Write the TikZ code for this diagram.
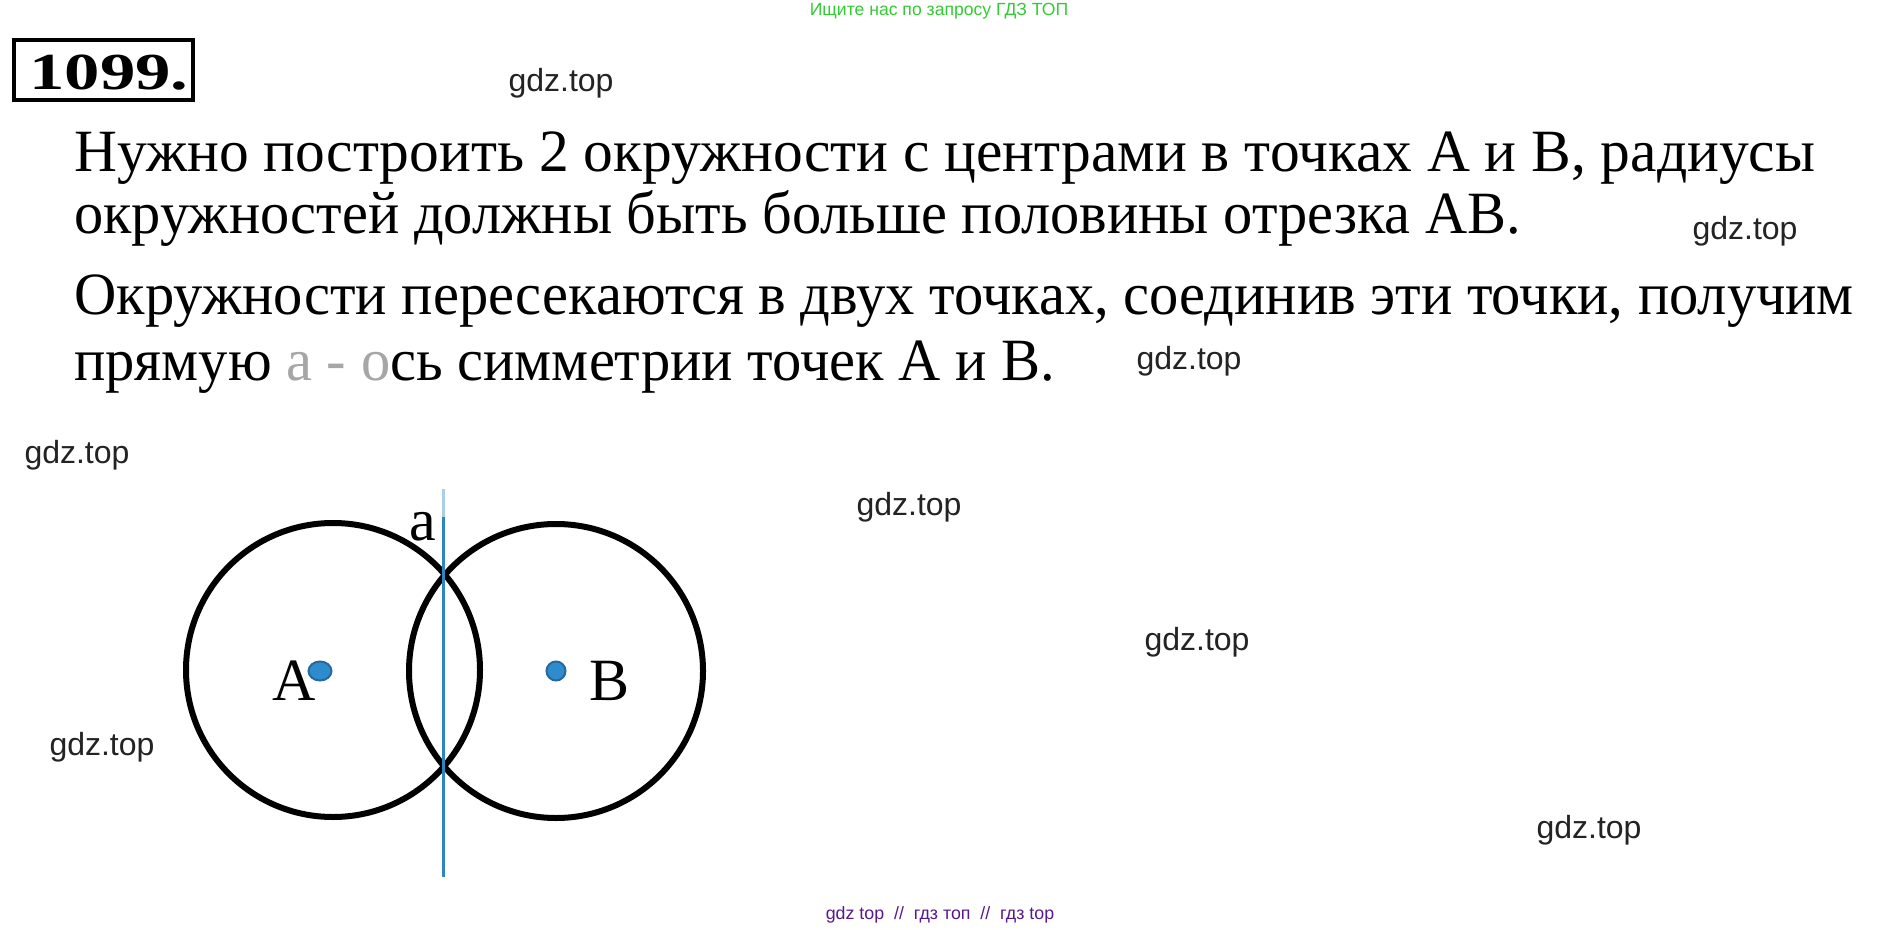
\documentclass[tikz,border=0pt]{standalone}
\usepackage{fontspec}
\setmainfont{Liberation Serif}
\newfontfamily\wmfont{Liberation Sans}
\definecolor{lineblue}{RGB}{46,134,193}
\definecolor{dotblue}{RGB}{46,140,205}
\definecolor{dotedge}{RGB}{38,105,160}
\definecolor{wmgray}{RGB}{35,35,35}
\definecolor{topgreen}{RGB}{51,204,51}
\definecolor{footpurple}{RGB}{85,26,139}
\def\firstcircle{(333,670) circle (147)}
\def\secondcircle{(556,671) circle (147)}
\begin{document}
\begin{tikzpicture}[x=0.5pt,y=-0.5pt,
  wm/.style={font=\wmfont\fontsize{16}{18}\selectfont,text=wmgray,inner sep=0pt},
  txt/.style={font=\fontsize{30}{36}\selectfont,anchor=base west,inner sep=0pt},
  lbl/.style={font=\fontsize{30}{36}\selectfont,anchor=base,inner sep=0pt},
  pt/.style={fill=dotblue,draw=dotedge,line width=1pt}]
\useasboundingbox[fill=white] (0,0) rectangle (1883,930);
% header
\node[font=\wmfont\fontsize{8.8}{10}\selectfont,text=topgreen,inner sep=0pt] (search) at (939,11) {Ищите нас по запросу ГДЗ ТОП};
\draw[line width=2pt] (14,40) rectangle (193,100);
\node[font=\bfseries\fontsize{26}{30}\selectfont,anchor=base,inner sep=0pt,xscale=1.36] (num) at (109,90) {1099.};
% text
\node[txt,xscale=0.991] (line1) at (74,172) {Нужно построить 2 окружности с центрами в точках А и В, радиусы};
\node[txt,xscale=0.973] (line2) at (74,234) {окружностей должны быть больше половины отрезка АВ.};
\node[txt,xscale=0.975] (line3) at (74,315) {Окружности пересекаются в двух точках, соединив эти точки, получим};
\node[txt,xscale=0.975] (line4) at (74,380) {прямую {\color{gray!70}а - о}сь симметрии точек А и В.};
% picture
\draw[line width=3pt] \firstcircle;
\draw[line width=3pt] \secondcircle;
\coordinate (top) at (443,489);
\coordinate (mid) at (443,517);
\coordinate (bot) at (443,877);
\draw[lineblue!40,line width=1.5pt] (top) -- (mid);
\draw[lineblue,line width=1.5pt] (mid) -- (bot);
\draw[pt] (320,671) ellipse (11.5 and 9.5);
\draw[pt] (556,671) circle (9.5);
\node[lbl] (A) at (294,700) {A};
\node[lbl] (B) at (609,700) {B};
\node[lbl] (a) at (423,540) {a};
% watermarks
\foreach \p [count=\i] in {(561,83),(1745,231),(1189,361),(77,455),(909,507),(1197,642),(102,747),(1589,830)}
  \node[wm] (wm\i) at \p {gdz.top};
\node[font=\wmfont\fontsize{8.9}{10}\selectfont,text=footpurple,inner sep=0pt] (foot) at (940,915) {gdz top \ // \ гдз топ \ // \ гдз top};
\end{tikzpicture}
\end{document}
